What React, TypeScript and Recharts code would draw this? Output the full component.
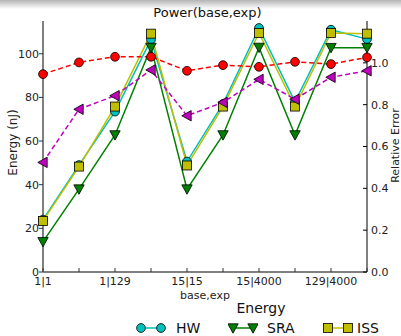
import { LineChart, Line, XAxis, YAxis, Legend, Label } from "recharts";

const categories = ["1|1", "1|15", "1|129", "1|4000", "15|15", "15|129", "15|4000", "129|15", "129|4000", "4000|4000"];
const shownCategories = ["1|1", "1|129", "15|15", "15|4000", "129|4000"];

// energy in nJ (left axis)
const hwEnergy = [24, 49, 73.5, 106.5, 50.6, 77, 111.8, 78, 111, 106.7];
const sraEnergy = [13.9, 38, 62.8, 102.9, 38, 62.8, 102.9, 62.8, 102.8, 102.8];
const issEnergy = [23.4, 48.3, 75.8, 109.2, 48.8, 75.8, 109.5, 75.8, 109.5, 109.2];

// relative error (right axis)
const errorRed = [0.946, 1.002, 1.029, 1.029, 0.962, 0.989, 0.981, 1.005, 0.994, 1.026];
const errorMagenta = [0.524, 0.778, 0.843, 0.966, 0.747, 0.811, 0.921, 0.826, 0.931, 0.962];

const energyTicks = [0, 20, 40, 60, 80, 100];
const errorTicks = [0, 0.2, 0.4, 0.6, 0.8, 1.0];

const data = categories.map((label, i) => ({
    label,
    HW: hwEnergy[i],
    SRA: sraEnergy[i],
    ISS: issEnergy[i],
    errRed: errorRed[i],
    errMagenta: errorMagenta[i],
}));

const CYAN = "#00bfbf";
const GREEN = "#008000";
const YELLOW = "#bfbf00";
const RED = "#ff0000";
const MAGENTA = "#bf00bf";
const FONT = "'DejaVu Sans', sans-serif";

function Marker({ shape, cx, cy, color }: { shape: string; cx: number; cy: number; color: string }) {
    const edge = { stroke: "#000", strokeWidth: 0.8, fill: color };
    if (shape === "circle") return <circle cx={cx} cy={cy} r={4.4} {...edge} />;
    if (shape === "square") return <rect x={cx - 4.5} y={cy - 4.5} width={9} height={9} {...edge} />;
    if (shape === "down")
        return <polygon points={`${cx - 5.2},${cy - 4.2} ${cx + 5.2},${cy - 4.2} ${cx},${cy + 5.2}`} {...edge} />;
    return <polygon points={`${cx - 5.2},${cy} ${cx + 4.2},${cy - 5.2} ${cx + 4.2},${cy + 5.2}`} {...edge} />;
}

const dotOf = (shape: string, color: string) => (props: any) => {
    const { cx, cy, index } = props;
    if (cx == null || cy == null) return <g key={index} />;
    return (
        <g key={index}>
            <Marker shape={shape} cx={cx} cy={cy} color={color} />
        </g>
    );
};

const shapeByKey: Record<string, string> = { HW: "circle", SRA: "down", ISS: "square" };
const legendPos: Record<string, [number, number]> = { HW: [136, 176], SRA: [228, 267], ISS: [323, 357] };

function EnergyLegend(props: any) {
    const items = (props.payload ?? []).filter((p: any) => shapeByKey[p.dataKey]);
    return (
        <div style={{ position: "relative", width: 401, height: 34, fontFamily: FONT }}>
            <div style={{ position: "absolute", left: 0, width: 522, top: -2, textAlign: "center", fontSize: 14, lineHeight: "16px", color: "#111" }}>
                Energy
            </div>
            {items.map((p: any) => {
                const [mx, tx] = legendPos[p.dataKey];
                return (
                    <div key={p.dataKey}>
                        <svg style={{ position: "absolute", left: mx, top: 16 }} width={30} height={20}>
                            <line x1={5} x2={25} y1={10} y2={10} stroke={p.color} strokeWidth={1.5} />
                            <Marker shape={shapeByKey[p.dataKey]} cx={5} cy={10} color={p.color} />
                            <Marker shape={shapeByKey[p.dataKey]} cx={25} cy={10} color={p.color} />
                        </svg>
                        <span style={{ position: "absolute", left: tx, top: 17, fontSize: 14, lineHeight: "18px", color: "#111" }}>
                            {p.value}
                        </span>
                    </div>
                );
            })}
        </div>
    );
}

function BottomTick(props: any) {
    const { x, y, payload } = props;
    return (
        <g>
            <line x1={x} x2={x} y1={y} y2={y - 4} stroke="#333" />
            {shownCategories.includes(payload.value) && (
                <text x={x} y={y + 13} textAnchor="middle" fontSize={11} fill="#222">
                    {payload.value}
                </text>
            )}
        </g>
    );
}

function TopTick(props: any) {
    const { x, y } = props;
    return <line x1={x} x2={x} y1={y} y2={y + 4} stroke="#000" />;
}

function RightTick(props: any) {
    const { x, y, payload } = props;
    return (
        <g>
            <line x1={x} x2={x - 4} y1={y} y2={y} stroke="#000" />
            <text x={x + 4} y={y} dy="0.35em" textAnchor="start" fontSize={11} fill="#222">
                {Number(payload.value).toFixed(1)}
            </text>
        </g>
    );
}

export default function App() {
    return (
        <div style={{ position: "absolute", left: 0, top: 0, width: 401, height: 336, background: "#fff", overflow: "hidden", fontFamily: FONT }}>
            <div style={{ position: "absolute", left: 0, top: 0, width: 401, height: 9, background: "linear-gradient(#b4b4b4, #ffffff)" }} />
            <div style={{ position: "absolute", left: 0, top: 5, width: 415, textAlign: "center", fontSize: 13, lineHeight: "16px", color: "#111" }}>
                Power(base,exp)
            </div>
            <div style={{ position: "absolute", left: 0, top: 0 }}>
                <LineChart width={401} height={336} data={data} margin={{ top: 21, right: 0, bottom: 0, left: 0 }}>
                    <XAxis
                        dataKey="label"
                        interval={0}
                        height={30}
                        tickSize={0}
                        tickMargin={0}
                        tick={<BottomTick />}
                        axisLine={{ stroke: "#808080", strokeWidth: 2 }}
                    >
                        <Label
                            content={(p: any) => {
                                const vb = p.viewBox;
                                return (
                                    <text x={vb.x + vb.width / 2} y={vb.y + 27} textAnchor="middle" fontSize={11} fill="#222">
                                        base,exp
                                    </text>
                                );
                            }}
                        />
                    </XAxis>
                    <XAxis
                        xAxisId="top"
                        dataKey="label"
                        orientation="top"
                        interval={0}
                        height={0}
                        tickSize={0}
                        tick={<TopTick />}
                        axisLine={{ stroke: "#000" }}
                    />
                    <YAxis
                        yAxisId="left"
                        width={43}
                        domain={[0, 115]}
                        ticks={energyTicks}
                        tickSize={4}
                        tickMargin={0}
                        tick={{ fontSize: 11, fill: "#222" }}
                        tickLine={{ stroke: "#333" }}
                        axisLine={{ stroke: "#808080", strokeWidth: 2 }}
                    >
                        <Label
                            content={(p: any) => {
                                const vb = p.viewBox;
                                const cx = vb.x + 13;
                                const cy = vb.y + vb.height / 2 - 4;
                                return (
                                    <text x={cx} y={cy} transform={`rotate(-90 ${cx} ${cy})`} textAnchor="middle" dominantBaseline="central" fontSize={12} fill="#222">
                                        Energy (nJ)
                                    </text>
                                );
                            }}
                        />
                    </YAxis>
                    <YAxis
                        yAxisId="right"
                        orientation="right"
                        width={34}
                        domain={[0, 1.2]}
                        ticks={errorTicks}
                        tickSize={0}
                        tickMargin={0}
                        tick={<RightTick />}
                        axisLine={{ stroke: "#000" }}
                    >
                        <Label
                            content={(p: any) => {
                                const vb = p.viewBox;
                                const cx = vb.x + 28;
                                const cy = vb.y + vb.height / 2 - 1;
                                return (
                                    <text x={cx} y={cy} transform={`rotate(-90 ${cx} ${cy})`} textAnchor="middle" dominantBaseline="central" fontSize={11} fill="#222">
                                        Relative Error
                                    </text>
                                );
                            }}
                        />
                    </YAxis>
                    <Legend verticalAlign="bottom" height={34} content={<EnergyLegend />} />
                    <Line yAxisId="left" dataKey="HW" name="HW" stroke={CYAN} strokeWidth={1.5} dot={dotOf("circle", CYAN)} isAnimationActive={false} />
                    <Line yAxisId="left" dataKey="SRA" name="SRA" stroke={GREEN} strokeWidth={1.5} dot={dotOf("down", GREEN)} isAnimationActive={false} />
                    <Line yAxisId="left" dataKey="ISS" name="ISS" stroke={YELLOW} strokeWidth={1.5} dot={dotOf("square", YELLOW)} isAnimationActive={false} />
                    <Line yAxisId="right" dataKey="errRed" legendType="none" stroke={RED} strokeWidth={1.5} strokeDasharray="5 3" dot={dotOf("circle", RED)} isAnimationActive={false} />
                    <Line yAxisId="right" dataKey="errMagenta" legendType="none" stroke={MAGENTA} strokeWidth={1.5} strokeDasharray="5 3" dot={dotOf("left", MAGENTA)} isAnimationActive={false} />
                </LineChart>
            </div>
        </div>
    );
}
